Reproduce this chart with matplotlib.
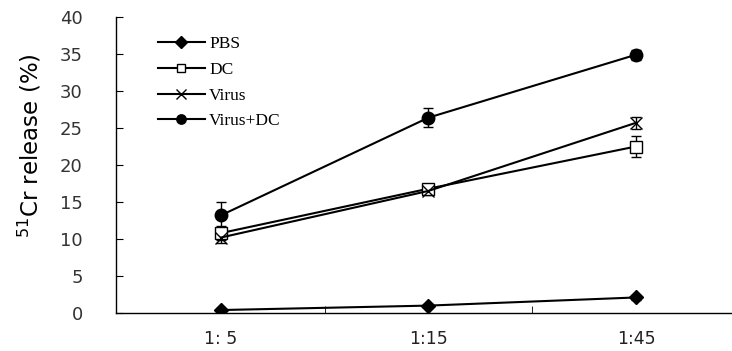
import matplotlib
matplotlib.use("Agg")
import matplotlib.pyplot as plt
from matplotlib.lines import Line2D
import numpy as np

categories = ["1: 5", "1:15", "1:45"]
pbs = [0.4, 1.0, 2.1]
pbs_err = [0.2, 0.2, 0.4]
dc = [10.8, 16.8, 22.5]
dc_err = [1.0, 0.5, 1.4]
virus = [10.2, 16.5, 25.7]
virus_err = [0.7, 0.6, 0.8]
virus_dc = [13.2, 26.4, 34.9]
virus_dc_err = [1.8, 1.3, 0.7]
series_names = ["PBS", "DC", "Virus", "Virus+DC"]

fig = plt.figure(figsize=(7.32, 3.51), dpi=100)
ax = fig.add_axes([116/732, 1-313/351, 1-116/732, (313-17)/351])

x = np.arange(1, len(categories) + 1)
styles = [
    dict(marker="D", mfc="black", mec="black", ms=7.5),
    dict(marker="s", mfc="white", mec="black", ms=8.5, mew=1.0),
    dict(marker="x", mfc="none", mec="black", ms=9, mew=1.0),
    dict(marker="o", mfc="black", mec="black", ms=9),
]
data = [(pbs, pbs_err), (dc, dc_err), (virus, virus_err), (virus_dc, virus_dc_err)]
handles = []
for (vals, errs), st, name in zip(data, styles, series_names):
    ax.errorbar(x, vals, yerr=errs, color="black", lw=1.5, capsize=3.6,
                elinewidth=1.0, capthick=1.0, **st)
    lst = dict(st)
    lst["ms"] = st["ms"] * 0.75
    handles.append(Line2D([], [], color="black", lw=1.5, label=name, **lst))

ax.set_xlim(0.494, 3.463)
ax.set_ylim(0, 40)
ax.set_yticks(range(0, 41, 5))
ax.set_xticks(x)
ax.set_xticklabels(categories)
ax.set_xticks([1.5, 2.5], minor=True)
ax.tick_params(axis="x", which="major", length=0, pad=12, labelsize=12.5, colors="#222222")
ax.tick_params(axis="x", which="minor", direction="in", length=5)
ax.tick_params(axis="y", direction="in", length=5, pad=24, labelsize=13, labelcolor="#333333")
for s in ["top", "right"]:
    ax.spines[s].set_visible(False)
for s in ["left", "bottom"]:
    ax.spines[s].set_linewidth(1.0)

fig.text(30/732, 1-146/351, r"$^{51}$Cr release (%)", rotation=90, va="center",
         ha="center", fontsize=16.5, family="DejaVu Sans")

leg = ax.legend(handles=handles, loc="upper left", bbox_to_anchor=(0.068, 0.935), frameon=False,
                prop={"family": "Liberation Serif", "size": 12.5},
                handlelength=2.7, handletextpad=0.25, labelspacing=0.55,
                borderpad=0, borderaxespad=0, numpoints=1)

fig.savefig("out.png", dpi=100)
